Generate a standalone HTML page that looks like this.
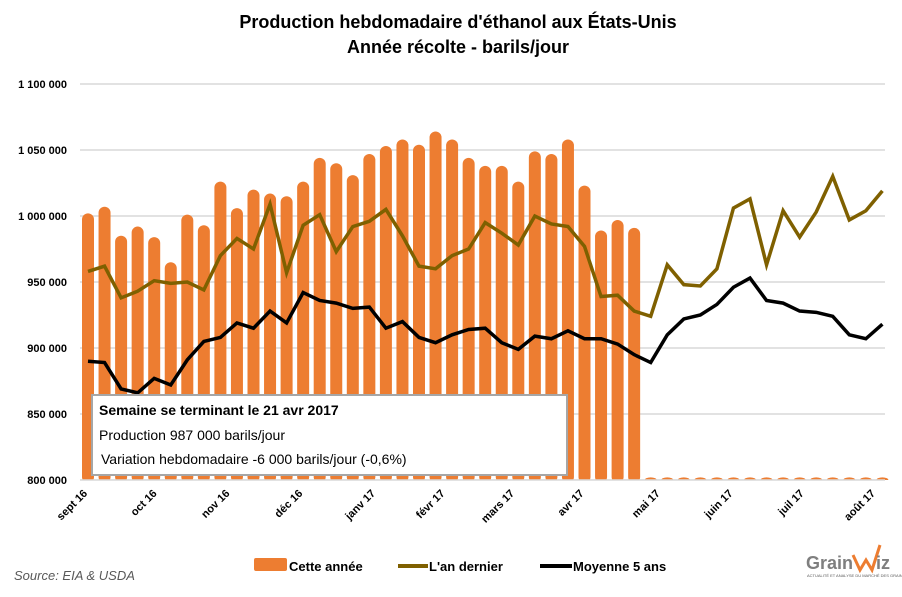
<!DOCTYPE html>
<html><head><meta charset="utf-8">
<style>
body{margin:0;background:#fff;}
svg text{font-family:"Liberation Sans",sans-serif;}
</style></head>
<body>
<svg id="chart" width="902" height="592" viewBox="0 0 902 592" xmlns="http://www.w3.org/2000/svg">
<rect width="902" height="592" fill="#fff"/>
<text x="458" y="28" text-anchor="middle" font-size="18" font-weight="bold">Production hebdomadaire d'éthanol aux États-Unis</text>
<text x="458" y="53" text-anchor="middle" font-size="18" font-weight="bold">Année récolte - barils/jour</text>
<g id="grid"></g>
<g id="yaxis"></g>
<g id="bars"></g>
<g id="lines"></g>
<g id="xaxis"></g>
<g>
<rect x="92" y="395" width="475" height="80" fill="#fff" stroke="#a6a6a6" stroke-width="2"/>
<text x="99" y="415" font-size="14" font-weight="bold">Semaine se terminant le 21 avr 2017</text>
<text x="99" y="440" font-size="14">Production 987 000 barils/jour</text>
<text x="101" y="464" font-size="14">Variation hebdomadaire -6 000 barils/jour (-0,6%)</text>
</g>
<g>
<g><rect x="254" y="558" width="33" height="13" rx="2" fill="#ED7D31"/><text x="289" y="571" font-size="13" font-weight="bold">Cette année</text></g>
<g><line x1="398" y1="566" x2="428" y2="566" stroke="#7F6000" stroke-width="4"/><text x="429" y="571" font-size="13" font-weight="bold">L'an dernier</text></g>
<g><line x1="540" y1="566" x2="572" y2="566" stroke="#000" stroke-width="4"/><text x="573" y="571" font-size="13" font-weight="bold">Moyenne 5 ans</text></g>
</g>
<text x="14" y="580" font-size="13" font-style="italic" fill="#595959">Source: EIA &amp; USDA</text>
<g>
<text x="806" y="569" font-size="18" font-weight="bold" fill="#7f7f7f">Grain</text>
<polyline points="853,555 860,570 866,560 872,570 880,545" fill="none" stroke="#ED7D31" stroke-width="3"/>
<text x="876" y="569" font-size="18" font-weight="bold" fill="#7f7f7f">iz</text>
<text x="807" y="577" font-size="4" fill="#595959">ACTUALITÉ ET ANALYSE DU MARCHÉ DES GRAINS</text>
</g>
</svg>
<script>
const thisYear=[1002,1007,985,992,984,965,1001,993,1026,1006,1020,1017,1015,1026,1044,1040,1031,1047,1053,1058,1054,1064,1058,1044,1038,1038,1026,1049,1047,1058,1023,989,997,991,802,802,802,802,802,802,802,802,802,802,802,802,802,802,802];
const lastYear=[958,962,938,943,951,949,950,944,970,983,975,1009,957,993,1001,973,992,996,1005,985,962,960,970,975,995,987,978,1000,994,992,977,939,940,928,924,963,948,947,960,1006,1013,963,1004,984,1003,1030,997,1004,1019];
const avg5=[890,889,869,866,877,872,891,905,908,919,915,928,919,942,936,934,930,931,915,920,908,904,910,914,915,904,899,909,907,913,907,907,903,895,889,910,922,925,933,946,953,936,934,928,927,924,910,907,918];
const yTicks=[800000,850000,900000,950000,1000000,1050000,1100000];
const yTickLabels=["800 000","850 000","900 000","950 000","1 000 000","1 050 000","1 100 000"];
const monthLabels=["sept 16","oct 16","nov 16","déc 16","janv 17","févr 17","mars 17","avr 17","mai 17","juin 17","juil 17","août 17"];
const monthIdx=[0,4.2,8.6,13,17.4,21.6,25.8,30,34.6,39,43.3,47.6];

const NS="http://www.w3.org/2000/svg";
const x0=88,step=16.55;
const xs=i=>x0+i*step;
const ys=v=>480-(v-800000)/50000*66;
function mk(tag,attrs,parent){const e=document.createElementNS(NS,tag);for(const k in attrs)e.setAttribute(k,attrs[k]);parent.appendChild(e);return e;}
const grid=document.getElementById('grid'),yax=document.getElementById('yaxis');
yTicks.forEach((t,i)=>{
  const l=mk('line',{x1:80,x2:885,y1:ys(t),y2:ys(t),stroke:'#d9d9d9','stroke-width':1.5},grid);
  
  
  const tx=mk('text',{x:67,y:ys(t)+4,'text-anchor':'end','font-size':11,'font-weight':'bold'},yax);
  tx.textContent=yTickLabels[i];
  
  
});
const bars=document.getElementById('bars');
thisYear.forEach((v,i)=>{
  const top=ys(v*1000),w=12;
  const r=mk('rect',{x:xs(i)-w/2,y:top,width:w,height:480-top+3,rx:6,fill:'#ED7D31'},bars);
  
  
});
mk('rect',{x:80,y:480,width:810,height:8,fill:'#fff'},bars);
mk('line',{x1:80,x2:885,y1:480,y2:480,stroke:'#d9d9d9','stroke-width':1.5},bars);
const lines=document.getElementById('lines');
function line(arr,color,name){
  const p=mk('polyline',{points:arr.map((v,i)=>xs(i)+','+ys(v*1000)).join(' '),fill:'none',stroke:color,'stroke-width':3.5,'stroke-linejoin':'miter'},lines);
  
  
}
line(lastYear,'#7F6000','line-last-year');
line(avg5,'#000','line-5yr-average');
const xax=document.getElementById('xaxis');
monthLabels.forEach((m,i)=>{
  const x=xs(monthIdx[i]);
  const t=mk('text',{x:x,y:494,'text-anchor':'end','font-size':11,'font-weight':'bold',transform:`rotate(-45 ${x} 494)`},xax);
  t.textContent=m;
  
  
});
</script>
</body></html>
